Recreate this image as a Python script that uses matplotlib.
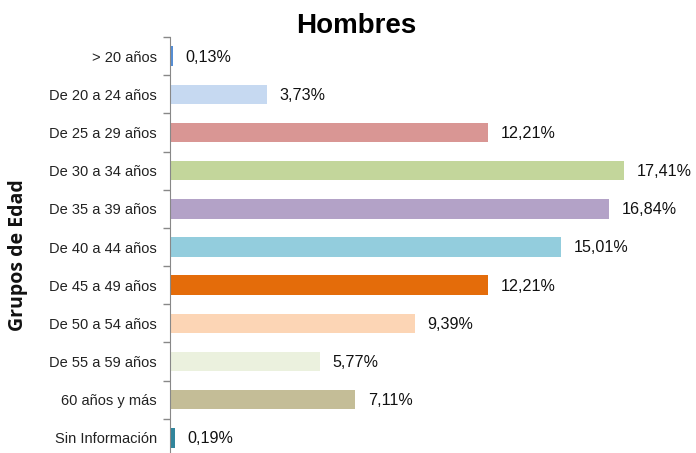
import matplotlib.pyplot as plt

plt.rcParams['font.family'] = ['Liberation Sans', 'DejaVu Sans']

grupos = ['> 20 años', 'De 20 a 24 años', 'De 25 a 29 años', 'De 30 a 34 años',
          'De 35 a 39 años', 'De 40 a 44 años', 'De 45 a 49 años', 'De 50 a 54 años',
          'De 55 a 59 años', '60 años y más', 'Sin Información']
valores = [0.13, 3.73, 12.21, 17.41, 16.84, 15.01, 12.21, 9.39, 5.77, 7.11, 0.19]
etiquetas = ['0,13%', '3,73%', '12,21%', '17,41%', '16,84%', '15,01%',
             '12,21%', '9,39%', '5,77%', '7,11%', '0,19%']
colores = ['#558ED5', '#C6D9F1', '#D99694', '#C3D69B', '#B3A2C7', '#93CDDD',
           '#E46C0A', '#FCD5B5', '#EBF1DE', '#C4BD97', '#31859C']

fig = plt.figure(figsize=(6.96, 4.53), dpi=100)
ax = fig.add_axes([170 / 696, -4 / 453, 1 - 170 / 696, 420 / 453])

pos = list(range(len(grupos)))
ax.barh(pos, valores, height=0.51, color=colores)
for y, v, t in zip(pos, valores, etiquetas):
    ax.annotate(t, (v, y), xytext=(8.8, -0.7), textcoords='offset points',
                va='center', ha='left', fontsize=11.6, color='#111111')

ax.set_xlim(0, (696 - 170) / 26.08)
ax.set_ylim(len(grupos) - 0.5, -0.5)
ax.set_yticks(pos)
ax.set_yticklabels(grupos, fontsize=10.5, color='#222222')
ax.set_yticks([p - 0.5 for p in pos] + [len(grupos) - 0.5], minor=True)
ax.tick_params(axis='y', which='major', length=0, pad=9.5)
ax.tick_params(axis='y', which='minor', length=5, color='#888888', width=1)
ax.set_xticks([])
for s in ['top', 'right', 'bottom']:
    ax.spines[s].set_visible(False)
ax.spines['left'].set_color('#888888')

fig.text(356 / 696, 1 - 26 / 453, 'Hombres', fontsize=20, fontweight='bold',
         ha='center', va='center')
fig.text(18.5 / 696, 1 - 255 / 453, 'Grupos de Edad', fontsize=14, fontweight='bold',
         family=['Open Sans', 'DejaVu Sans'],
         rotation=90, ha='center', va='center', color='#111111')

fig.savefig('out.png', dpi=100)
